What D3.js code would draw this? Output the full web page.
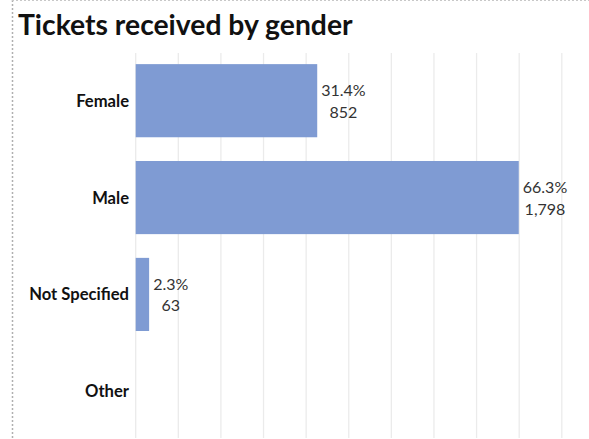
<!DOCTYPE html>
<html><head><meta charset="utf-8">
<script src="https://cdn.jsdelivr.net/npm/d3@7"></script>
<style>html,body{margin:0;padding:0;background:#fff;}svg{display:block;}</style>
</head><body>
<svg id="c" width="589" height="439"></svg>
<script>
const categories = ["Female", "Male", "Not Specified", "Other"];
const counts = [852, 1798, 63, 0];
const percents = ["31.4%", "66.3%", "2.3%", null];
const countLabels = ["852", "1,798", "63", null];
const xTicks = [0, 200, 400, 600, 800, 1000, 1200, 1400, 1600, 1800, 2000];

const svg = d3.select("#c");
const W = 589, H = 439;
const font = "Lato, 'Open Sans', sans-serif";

// dotted frame
svg.append("line").attr("x1", 12.5).attr("x2", 12.5).attr("y1", 0).attr("y2", H)
  .attr("stroke", "#b0b0b0").attr("stroke-dasharray", "2,2").attr("stroke-width", 1.5);
svg.append("line").attr("x1", 12).attr("x2", W).attr("y1", 0.5).attr("y2", 0.5)
  .attr("stroke", "#c8c8c8").attr("stroke-dasharray", "2,2").attr("stroke-width", 1);

const x = d3.scaleLinear().domain([0, 2000]).range([135.7, 561.8]);
const y = d3.scaleBand().domain(categories).range([52.5, 439.5]).paddingInner(0.245).paddingOuter(0.12);

// gridlines
svg.append("g").selectAll("line").data(xTicks).join("line")
  .attr("x1", d => x(d)).attr("x2", d => x(d))
  .attr("y1", 53).attr("y2", 438)
  .attr("stroke", "#ebebeb").attr("stroke-width", 1.3);

// title
svg.append("text").attr("x", 18).attr("y", 35)
  .attr("font-family", font).attr("font-weight", 700).attr("font-size", 28.3)
  .attr("fill", "#111").text("Tickets received by gender");

// bars
const data = categories.map((c, i) => ({c, v: counts[i], p: percents[i], n: countLabels[i]}));
svg.append("g").selectAll("rect").data(data).join("rect")
  .attr("x", x(0)).attr("y", d => y(d.c))
  .attr("width", d => x(d.v) - x(0)).attr("height", y.bandwidth())
  .attr("fill", "#7f9bd3");

// category labels
svg.append("g").selectAll("text").data(data).join("text")
  .attr("x", 129).attr("y", d => y(d.c) + y.bandwidth() / 2 + 6)
  .attr("text-anchor", "end").attr("font-family", font).attr("font-weight", 700)
  .attr("font-size", 16.6).attr("fill", "#111").text(d => d.c);

// value labels
data.filter(d => d.p).forEach(d => {
  const cy = y(d.c) + y.bandwidth() / 2;
  const g = svg.append("g");
  const t1 = g.append("text").attr("x", 0).attr("y", cy - 4.5).text(d.p);
  const t2 = g.append("text").attr("x", 0).attr("y", cy + 17).text(d.n);
  g.selectAll("text").attr("text-anchor", "middle").attr("font-family", font)
    .attr("font-size", 16).attr("fill", "#333");
  const w = Math.max(t1.node().getComputedTextLength(), t2.node().getComputedTextLength());
  g.attr("transform", `translate(${x(d.v) + 4 + w / 2},0)`);
});
</script>
</body></html>
